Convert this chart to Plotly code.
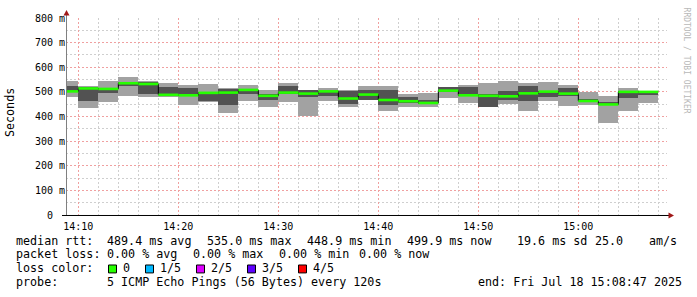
import plotly.graph_objects as go
from datetime import datetime, timedelta

# ---- data (ms) ----
first_bar_start = "2025-07-18 14:08:00"
step_minutes = 2
median_ms = [502, 514, 512, 535, 532, 488, 486, 496, 497, 508, 484, 497, 493, 502, 473, 489,
             467, 462, 455, 505, 486, 484, 482, 494, 501, 493, 463, 449, 500, 500]
low_ms = [478, 434, 458, 485, 478, 478, 445, 457, 413, 461, 438, 458, 404, 461, 440, 465,
          424, 440, 438, 474, 454, 438, 449, 422, 462, 442, 447, 373, 424, 454]
high_ms = [545, 525, 546, 559, 546, 536, 529, 533, 517, 527, 509, 535, 508, 515, 509, 523,
           523, 492, 494, 519, 529, 535, 546, 535, 539, 529, 498, 485, 516, 505]
q1_ms = [504, 462, 494, 525, 492, 492, 489, 462, 445, 490, 467, 490, 481, 485, 451, 467,
         447, 454, 449, 498, 482, 440, 465, 461, 481, 485, 461, 449, 476, 489]
q3_ms = [525, 521, 516, 539, 539, 519, 516, 498, 512, 512, 492, 522, 508, 505, 505, 509,
         509, 478, 469, 519, 519, 492, 505, 525, 505, 515, 471, 458, 505, 502]

y_tick_vals = [0, 100, 200, 300, 400, 500, 600, 700, 800]
y_tick_text = ["0\u00a0\u00a0", "100 m", "200 m", "300 m", "400 m", "500 m", "600 m", "700 m", "800 m"]

stats_rtt = ["489.4 ms avg", "535.0 ms max", "448.9 ms min", "499.9 ms now", "19.6 ms sd", "25.0", "am/s"]
stats_loss = ["0.00 % avg", "0.00 % max", "0.00 % min", "0.00 % now"]
loss_labels = ["0", "1/5", "2/5", "3/5", "4/5"]
loss_colors = ["#26ff00", "#00b8ff", "#dd00ff", "#5e00ff", "#ff0000"]
probe_text = "5 ICMP Echo Pings (56 Bytes) every 120s"
end_text = "end: Fri Jul 18 15:08:47 2025"

# ---- geometry helpers ----
W, H = 697, 297
PL, PR, PT, PB = 66, 667, 16, 215
def fx(px):
    return (px - PL) / (PR - PL)
def fy(py):
    return (PB - py) / (PB - PT)

t0 = datetime.strptime(first_bar_start, "%Y-%m-%d %H:%M:%S")
step = timedelta(minutes=step_minutes)
starts = [t0 + i * step for i in range(len(median_ms))]
ends = [s + step for s in starts]
centers = [s + step / 2 for s in starts]
width_ms = step.total_seconds() * 1000

fig = go.Figure()
fig.add_trace(go.Bar(x=centers, y=[h - l for h, l in zip(high_ms, low_ms)], base=low_ms,
                     width=width_ms, marker=dict(color="#a2a2a2", line=dict(width=0)),
                     hoverinfo="skip"))
fig.add_trace(go.Bar(x=centers, y=[h - l for h, l in zip(q3_ms, q1_ms)], base=q1_ms,
                     width=width_ms, marker=dict(color="#525252", line=dict(width=0)),
                     hoverinfo="skip"))
# step outline (vertical transitions)
fig.add_trace(go.Scatter(x=starts + [ends[-1]], y=median_ms + [median_ms[-1]], mode="lines",
                         line=dict(color="#000000", width=1, shape="hv"), hoverinfo="skip"))
seg_x, seg_y = [], []
for s, e, m in zip(starts, ends, median_ms):
    seg_x += [s, e, None]
    seg_y += [m, m, None]
fig.add_trace(go.Scatter(x=seg_x, y=seg_y, mode="lines",
                         line=dict(color=loss_colors[0], width=2.6), hoverinfo="skip"))

mono = "DejaVu Sans Mono"
major_grid = "#f0a0a0"
minor_grid = "#cfcfcf"
fig.update_layout(
    width=W, height=H, margin=dict(l=PL, r=W - PR, t=PT, b=H - PB),
    paper_bgcolor="#ffffff", plot_bgcolor="#ffffff",
    showlegend=False, barmode="overlay", bargap=0,
    font=dict(family=mono, size=10, color="#000000"),
    xaxis=dict(type="date", range=["2025-07-18 14:08:46", "2025-07-18 15:08:52"],
               tick0="2025-07-18 14:10:00", dtick=600000, tickformat="%H:%M",
               showgrid=True, gridcolor=major_grid, griddash="2px,2px", gridwidth=1,
               minor=dict(tick0="2025-07-18 14:10:00", dtick=120000, showgrid=True,
                          gridcolor=minor_grid, griddash="2px,2px", gridwidth=1),
               showline=False, ticks="", zeroline=False, ticklabelstandoff=4,
               tickfont=dict(family=mono, size=10, color="#000000")),
    yaxis=dict(range=[0, 800], tickvals=y_tick_vals, ticktext=y_tick_text,
               showgrid=True, gridcolor=major_grid, griddash="2px,2px", gridwidth=1,
               minor=dict(dtick=50, showgrid=True, gridcolor=minor_grid, griddash="2px,2px"),
               showline=False, ticks="", zeroline=False,
               tickfont=dict(family=mono, size=10, color="#000000")),
)

shapes = []
# axes lines
shapes.append(dict(type="line", xref="paper", yref="paper", x0=fx(66.5), x1=fx(66.5),
                   y0=fy(215), y1=fy(11), line=dict(color="#808080", width=1)))
shapes.append(dict(type="line", xref="paper", yref="paper", x0=fx(62), x1=fx(670),
                   y0=fy(215.5), y1=fy(215.5), line=dict(color="#000000", width=1)))
arrow_col = "#a01818"
shapes.append(dict(type="path", xref="paper", yref="paper",
                   path=f"M {fx(66.5)},{fy(8)} L {fx(63.5)},{fy(13.5)} L {fx(69.5)},{fy(13.5)} Z",
                   fillcolor=arrow_col, line=dict(color=arrow_col, width=0)))
shapes.append(dict(type="path", xref="paper", yref="paper",
                   path=f"M {fx(674)},{fy(215.5)} L {fx(668.5)},{fy(212.5)} L {fx(668.5)},{fy(218.5)} Z",
                   fillcolor=arrow_col, line=dict(color=arrow_col, width=0)))
# loss color boxes
box_left = [108.5, 145.5, 196.5, 247.5, 298.5]
label_left = [123.3, 160.0, 211.0, 261.7, 312.7]
for bx, c in zip(box_left, loss_colors):
    shapes.append(dict(type="rect", xref="paper", yref="paper", x0=fx(bx), x1=fx(bx + 8),
                       y0=fy(273.5), y1=fy(265.5), fillcolor=c, line=dict(color="#000000", width=1)))
fig.update_layout(shapes=shapes)

ann = []
def txt(px, py, s, size=11.7, color="#000000", angle=0, xanchor="left"):
    ann.append(dict(x=fx(px), y=fy(py), xref="paper", yref="paper", text=s, showarrow=False,
                    xanchor=xanchor, yanchor="middle", textangle=angle,
                    font=dict(family=mono, size=size, color=color), borderpad=0))

L1, L2, L3, L4 = 240.8, 254.8, 268.8, 282.8
off = 1.0
txt(16 - off, L1, "median rtt:")
for x, s in zip([107.3, 207.3, 306.7, 406.7, 516.7, 595.0, 649.3], stats_rtt):
    txt(x - off, L1, s)
txt(16 - off, L2, "packet loss:")
for x, s in zip([107.3, 193.3, 279.3, 359.3], stats_loss):
    txt(x - off, L2, s)
txt(16 - off, L3, "loss color:")
for x, s in zip(label_left, loss_labels):
    txt(x - off, L3, s)
txt(16 - off, L4, "probe:")
txt(107.3 - off, L4, probe_text)
txt(478.3 - off, L4, end_text)
# axis title and watermark
txt(10, 112, "Seconds", size=11.7, angle=-90, xanchor="center")
txt(686, 59, "RRDTOOL / TOBI OETIKER", size=8, color="#b8b8b8", angle=90, xanchor="center")
fig.update_layout(annotations=ann)

fig.write_html("out.html")
